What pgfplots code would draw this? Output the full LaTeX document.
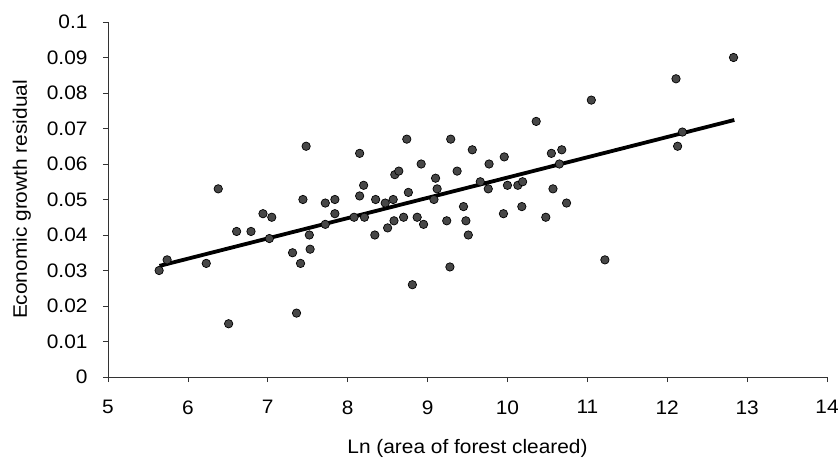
\documentclass[border=0pt]{standalone}
\usepackage{fontspec}
\setmainfont{Liberation Sans}[FakeStretch=1.07]
\usepackage{pgfplots}
\pgfplotsset{compat=1.18}

\pgfplotstableread{
x y
5.64 0.030
5.74 0.033
6.23 0.032
6.38 0.053
6.51 0.015
6.61 0.041
6.79 0.041
6.94 0.046
7.05 0.045
7.02 0.039
7.31 0.035
7.36 0.018
7.41 0.032
7.44 0.050
7.48 0.065
7.52 0.040
7.53 0.036
7.72 0.049
7.72 0.043
7.84 0.050
7.84 0.046
8.08 0.045
8.15 0.063
8.15 0.051
8.20 0.054
8.21 0.045
8.34 0.040
8.35 0.050
8.47 0.049
8.50 0.042
8.57 0.050
8.58 0.044
8.59 0.057
8.64 0.058
8.70 0.045
8.74 0.067
8.76 0.052
8.81 0.026
8.87 0.045
8.92 0.060
8.95 0.043
9.08 0.050
9.10 0.056
9.12 0.053
9.24 0.044
9.28 0.031
9.29 0.067
9.37 0.058
9.45 0.048
9.48 0.044
9.51 0.040
9.56 0.064
9.66 0.055
9.76 0.053
9.77 0.060
9.95 0.046
9.96 0.062
10.00 0.054
10.13 0.054
10.18 0.048
10.19 0.055
10.36 0.072
10.48 0.045
10.55 0.063
10.57 0.053
10.65 0.060
10.68 0.064
10.74 0.049
11.05 0.078
11.22 0.033
12.11 0.084
12.13 0.065
12.19 0.069
12.83 0.090
}\pts

\begin{document}
\begin{tikzpicture}
\begin{axis}[
    scale only axis,
    width=719pt, height=355pt,
    xmin=5, xmax=14,
    ymin=0, ymax=0.1,
    xtick={5,6,...,14},
    ytick={0,0.01,...,0.1},
    axis x line=bottom,
    axis y line=left,
    axis line style={-, black!80, line width=0.7pt},
    tick style={black!80, line width=0.7pt},
    tick align=outside,
    major tick length=5pt,
    scaled y ticks=false,
    yticklabel style={/pgf/number format/fixed, /pgf/number format/precision=2, xshift=-12pt},
    xticklabel style={yshift=-15pt},
    /pgf/number format/assume math mode=true,
    ticklabel style={font=\fontsize{19.5}{22}\selectfont},
    label style={font=\fontsize{19.5}{22}\selectfont},
    xlabel={Ln (area of forest cleared)},
    ylabel={Economic growth residual},
    xlabel style={yshift=-18pt},
    ylabel style={yshift=9pt},
    clip=false,
]
\addplot[only marks, mark=*, mark size=4.2pt,
    mark options={fill=black!72, draw=black, line width=0.7pt}] table[x=x, y=y] {\pts};
\addplot[black, line width=3.8pt] coordinates {(5.645,0.0313) (12.84,0.0724)};
\end{axis}
\pgfresetboundingbox
\path ([xshift=-108pt,yshift=-83pt]current axis.south west) rectangle ([xshift=11pt,yshift=22pt]current axis.north east);
\end{tikzpicture}
\end{document}
